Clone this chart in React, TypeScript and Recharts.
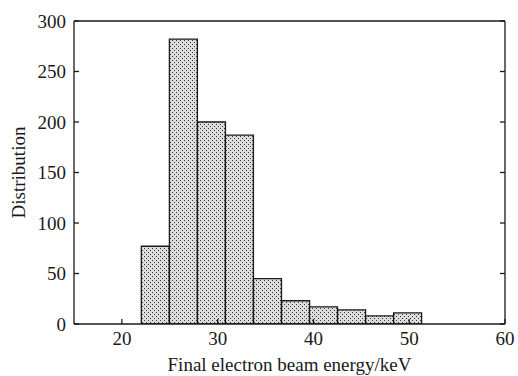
import { Bar, BarChart, XAxis, YAxis } from 'recharts';

// histogram bins (bin centre, keV) and counts
const binCenters = [23.49, 26.42, 29.35, 32.27, 35.2, 38.13, 41.05, 43.98, 46.91, 49.83];
const counts = [77, 282, 200, 187, 45, 23, 17, 14, 8, 11];
const xTicks = [20, 30, 40, 50, 60];
const yTicks = [0, 50, 100, 150, 200, 250, 300];

const data = binCenters.map((energy, i) => ({ energy, count: counts[i] }));

const INK = '#1a1a1a';
const font = { fontFamily: '"Liberation Serif", "DejaVu Serif", serif', fontSize: 19, fill: INK };
const blank = () => '';

export default function App() {
  return (
    <div style={{ position: 'absolute', left: 0, top: 0 }}>
      <BarChart
        width={518}
        height={376}
        data={data}
        margin={{ top: 20, right: 12, bottom: 0, left: 0 }}
        barCategoryGap={0}
        barGap={0}
      >
        <defs>
          <pattern id="stipple" width="4" height="4" patternUnits="userSpaceOnUse">
            <rect width="4" height="4" fill="#dcdcdc" />
            <rect x="0" y="0" width="1" height="1" fill="#3a3a3a" />
            <rect x="2" y="2" width="1" height="1" fill="#3a3a3a" />
          </pattern>
        </defs>
        <XAxis
          dataKey="energy"
          type="number"
          domain={[15, 60]}
          ticks={xTicks}
          allowDataOverflow
          height={52}
          tickSize={-5}
          tickMargin={13}
          tick={font}
          stroke={INK}
          strokeWidth={1.3}
          label={{ value: 'Final electron beam energy/keV', position: 'insideBottom', offset: 5, style: font }}
        />
        <XAxis
          xAxisId="top"
          orientation="top"
          type="number"
          domain={[15, 60]}
          ticks={xTicks}
          allowDataOverflow
          height={1}
          tickSize={-5}
          tickFormatter={blank}
          stroke={INK}
          strokeWidth={1.3}
        />
        <YAxis
          type="number"
          domain={[0, 300]}
          ticks={yTicks}
          allowDataOverflow
          width={74}
          tickSize={-5}
          tickMargin={13}
          tick={font}
          stroke={INK}
          strokeWidth={1.3}
          label={{
            value: 'Distribution',
            angle: -90,
            position: 'insideLeft',
            offset: 18,
            style: { ...font, textAnchor: 'middle' },
          }}
        />
        <YAxis
          yAxisId="right"
          orientation="right"
          type="number"
          domain={[0, 300]}
          ticks={yTicks}
          allowDataOverflow
          width={1}
          tickSize={-5}
          tickFormatter={blank}
          stroke={INK}
          strokeWidth={1.3}
        />
        <Bar dataKey="count" fill="url(#stipple)" stroke={INK} strokeWidth={1.3} isAnimationActive={false} />
      </BarChart>
    </div>
  );
}
